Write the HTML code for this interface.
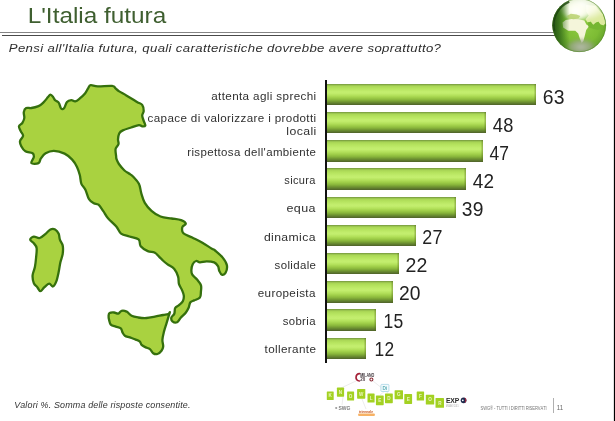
<!DOCTYPE html>
<html lang="it">
<head>
<meta charset="utf-8">
<title>L'Italia futura</title>
<style>

html,body{margin:0;padding:0;}
body{width:615px;height:421px;overflow:hidden;background:#fff;position:relative;font-family:'Liberation Sans', sans-serif;}
.slide{position:absolute;left:0;top:0;width:615px;height:421px;overflow:hidden;background:#fff;}
.rule{position:absolute;height:1px;}
.bar{position:absolute;left:327px;height:21.5px;background:linear-gradient(to right,rgba(80,100,25,0) 0,rgba(80,100,25,0) calc(100% - 2.5px),rgba(80,100,25,.45) 100%),linear-gradient(to bottom,#6f8f3c 0%,#94be4c 5%,#acd957 12%,#b6e45f 22%,#c2ed6d 36%,#c3ee6e 43%,#b2e05a 55%,#9dcc47 66%,#88b53b 76%,#739933 84%,#62812f 91%,#556b2c 97%,#4f632a 100%);}
.axis{position:absolute;left:325px;top:80px;width:2px;height:283px;background:#111;}
.edge{position:absolute;left:613px;top:0;width:2px;height:421px;background:linear-gradient(to right,rgba(0,0,0,.12) 0,rgba(0,0,0,.12) 1px,#000 1px,#000 2px);}
svg{position:absolute;left:0;top:0;overflow:visible;}
svg.logos,svg.txt{will-change:transform;}
svg.txt text{font-kerning:none;white-space:pre;}

</style>
</head>
<body>
<div class="slide">
<header>
<svg class="txt" width="615" height="421" viewBox="0 0 615 421" font-family="'Liberation Sans', sans-serif">
<text class="title" transform="translate(27.70,22.70) scale(1.1268,1)" font-size="21.6" letter-spacing="0.000" fill="#3f5f30">L'Italia futura</text>
<text class="subtitle" transform="translate(8.79,51.80) scale(1.1572,1)" font-size="11.4" letter-spacing="0.300" fill="#2e2e2e" font-style="italic">Pensi all'Italia futura, quali caratteristiche dovrebbe avere soprattutto?</text>
</svg>
<div class="rule" style="left:0;top:32px;width:556px;background:#858585"></div>
<div class="rule" style="left:2px;top:35px;width:554px;background:#4a4a4a"></div>
</header>
<section class="chart">
<div class="bar" style="top:83.7px;width:209.2px"></div>
<div class="bar" style="top:111.9px;width:159.1px"></div>
<div class="bar" style="top:140.1px;width:155.8px"></div>
<div class="bar" style="top:168.3px;width:139.1px"></div>
<div class="bar" style="top:196.5px;width:129.1px"></div>
<div class="bar" style="top:224.7px;width:89.0px"></div>
<div class="bar" style="top:252.9px;width:72.3px"></div>
<div class="bar" style="top:281.1px;width:65.6px"></div>
<div class="bar" style="top:309.3px;width:48.9px"></div>
<div class="bar" style="top:337.5px;width:38.9px"></div>
<div class="axis"></div>
<svg class="txt" width="615" height="421" viewBox="0 0 615 421" font-family="'Liberation Sans', sans-serif">
<text class="lbl" transform="translate(211.20,100.00) scale(1.0707,1)" font-size="10.9" letter-spacing="0.350" fill="#303030">attenta agli sprechi</text>
<text class="lbl" transform="translate(147.51,121.60) scale(1.0677,1)" font-size="10.9" letter-spacing="0.350" fill="#303030">capace di valorizzare i prodotti</text>
<text class="lbl" transform="translate(286.37,134.50) scale(1.1266,1)" font-size="10.9" letter-spacing="0.350" fill="#303030">locali</text>
<text class="lbl" transform="translate(187.24,156.20) scale(1.0536,1)" font-size="10.9" letter-spacing="0.350" fill="#303030">rispettosa dell'ambiente</text>
<text class="lbl" transform="translate(284.29,184.30) scale(1.0124,1)" font-size="10.9" letter-spacing="0.350" fill="#303030">sicura</text>
<text class="lbl" transform="translate(286.47,212.40) scale(1.1476,1)" font-size="10.9" letter-spacing="0.350" fill="#303030">equa</text>
<text class="lbl" transform="translate(263.89,240.50) scale(1.1203,1)" font-size="10.9" letter-spacing="0.350" fill="#303030">dinamica</text>
<text class="lbl" transform="translate(274.58,268.60) scale(1.0511,1)" font-size="10.9" letter-spacing="0.350" fill="#303030">solidale</text>
<text class="lbl" transform="translate(257.70,296.70) scale(1.0692,1)" font-size="10.9" letter-spacing="0.350" fill="#303030">europeista</text>
<text class="lbl" transform="translate(282.68,324.80) scale(1.0439,1)" font-size="10.9" letter-spacing="0.350" fill="#303030">sobria</text>
<text class="lbl" transform="translate(264.52,352.90) scale(1.0731,1)" font-size="10.9" letter-spacing="0.350" fill="#303030">tollerante</text>
<text class="val" transform="translate(542.82,103.90) scale(0.978,1)" font-size="19.8" letter-spacing="0.200" fill="#222">63</text>
<text class="val" transform="translate(492.78,131.90) scale(0.9231,1)" font-size="19.8" letter-spacing="0.200" fill="#222">48</text>
<text class="val" transform="translate(489.50,159.90) scale(0.8809,1)" font-size="19.8" letter-spacing="0.200" fill="#222">47</text>
<text class="val" transform="translate(472.86,187.90) scale(0.958,1)" font-size="19.8" letter-spacing="0.200" fill="#222">42</text>
<text class="val" transform="translate(461.87,215.90) scale(0.9741,1)" font-size="19.8" letter-spacing="0.200" fill="#222">39</text>
<text class="val" transform="translate(422.30,243.90) scale(0.9045,1)" font-size="19.8" letter-spacing="0.200" fill="#222">27</text>
<text class="val" transform="translate(405.52,271.90) scale(0.9885,1)" font-size="19.8" letter-spacing="0.200" fill="#222">22</text>
<text class="val" transform="translate(398.93,299.90) scale(0.9729,1)" font-size="19.8" letter-spacing="0.200" fill="#222">20</text>
<text class="val" transform="translate(383.57,327.90) scale(0.8851,1)" font-size="19.8" letter-spacing="0.200" fill="#222">15</text>
<text class="val" transform="translate(374.58,355.90) scale(0.8773,1)" font-size="19.8" letter-spacing="0.200" fill="#222">12</text>
</svg>
</section>
<svg class="map" width="615" height="421" viewBox="0 0 615 421">
<path d="M26.2,108.0C27.5,107.3 29.2,108.3 31.4,108.0C33.6,107.7 36.4,107.0 38.5,106.1C40.6,105.2 41.6,104.2 43.3,102.6C45.0,101.0 46.8,98.5 48.0,97.1C49.2,95.7 49.5,94.7 50.4,94.7C51.3,94.7 52.4,96.1 53.2,97.1C54.0,98.1 54.1,99.2 55.1,100.2C56.1,101.2 57.7,101.1 58.7,102.6C59.8,104.1 60.1,107.6 61.1,108.5C62.1,109.4 63.2,109.2 64.2,108.0C65.2,106.8 65.8,103.3 67.0,101.9C68.2,100.5 69.8,100.3 71.3,100.2C72.8,100.1 73.8,101.8 75.3,101.4C76.8,101.1 78.4,99.6 80.1,98.2C81.8,96.8 83.6,95.2 85.0,93.5C86.4,91.8 87.1,89.8 88.1,88.3C89.1,86.8 89.0,85.5 90.7,85.2C92.4,84.9 94.1,86.2 97.8,86.3C101.5,86.4 109.0,85.6 112.1,85.9C115.2,86.2 114.4,87.3 115.6,88.3C116.8,89.3 117.3,90.2 119.2,91.4C121.1,92.6 123.2,93.6 126.3,95.4C129.4,97.2 134.2,100.2 137.0,101.9C139.8,103.6 141.0,103.3 142.2,104.9C143.4,106.5 143.7,109.0 143.7,110.9C143.7,112.8 142.2,113.8 142.2,115.6C142.2,117.3 143.2,119.2 143.7,120.9C144.2,122.7 145.6,124.7 145.3,125.6C145.0,126.5 143.3,126.4 142.2,126.3C141.1,126.2 140.8,124.9 138.9,125.1C137.0,125.3 133.9,126.6 131.1,127.5C128.3,128.4 124.9,129.4 122.8,130.4C120.7,131.4 120.0,131.8 119.2,133.4C118.4,135.0 118.1,137.5 118.0,139.4C117.9,141.3 118.9,142.4 118.5,144.1C118.1,145.8 116.0,146.8 115.6,148.9C115.2,151.0 115.9,154.2 116.1,156.0C116.3,157.8 116.0,157.6 116.5,159.0C117.0,160.4 117.5,162.0 118.9,164.0C120.3,166.0 122.7,168.8 124.5,170.5C126.3,172.2 127.5,172.4 129.0,173.5C130.5,174.6 131.3,174.7 133.0,176.5C134.7,178.3 137.4,180.9 138.9,183.8C140.4,186.7 140.3,190.0 141.3,193.3C142.3,196.6 143.0,199.7 144.8,202.8C146.6,205.9 148.8,208.4 151.5,210.8C154.2,213.2 157.0,215.2 160.5,216.5C164.0,217.8 168.0,217.9 171.6,218.5C175.2,219.1 178.6,219.3 181.1,220.2C183.6,221.1 185.6,222.6 185.8,223.8C186.0,225.0 182.7,225.6 182.3,227.3C181.9,229.0 181.7,231.5 183.4,233.3C185.1,235.1 188.9,235.8 192.2,237.5C195.5,239.2 199.0,240.8 202.4,242.8C205.8,244.8 209.7,247.4 211.9,248.7C214.1,250.0 213.2,248.9 215.1,250.5C217.0,252.1 220.6,255.0 222.7,257.6C224.8,260.2 226.4,262.5 226.9,265.2C227.4,267.9 226.5,271.1 225.6,272.8C224.7,274.5 222.9,275.0 221.8,274.7C220.7,274.4 220.0,272.4 219.3,270.9C218.6,269.4 218.9,267.7 218.0,266.2C217.1,264.7 216.2,263.2 214.2,262.4C212.2,261.6 209.1,261.4 206.6,261.4C204.1,261.4 201.7,262.5 199.9,262.4C198.1,262.3 197.4,260.7 196.1,261.0C194.8,261.3 193.5,262.7 192.7,264.3C191.9,265.9 191.5,268.2 191.4,270.0C191.3,271.8 191.3,273.0 192.3,274.7C193.3,276.4 195.6,277.7 197.1,279.5C198.6,281.3 200.2,283.0 200.9,285.2C201.6,287.4 201.1,289.6 200.9,291.8C200.7,294.0 201.1,296.0 199.9,297.5C198.7,299.0 195.9,299.6 194.2,300.4C192.5,301.2 191.4,301.0 190.4,302.3C189.4,303.6 189.3,306.2 188.5,308.0C187.7,309.8 187.0,311.0 185.7,312.7C184.4,314.4 182.4,315.8 180.9,317.5C179.4,319.2 178.6,321.5 177.1,322.2C175.6,322.9 173.4,322.1 172.4,321.3C171.4,320.5 171.1,318.8 171.4,317.5C171.7,316.2 173.6,315.4 174.3,313.7C175.0,312.0 174.4,309.5 175.2,308.0C176.0,306.5 177.7,306.3 179.0,305.1C180.3,303.9 182.0,303.0 182.8,301.3C183.6,299.6 184.0,297.6 183.8,295.6C183.6,293.6 182.7,291.9 181.9,289.9C181.1,287.9 179.7,286.5 179.0,284.2C178.3,281.9 178.9,279.3 178.1,276.6C177.3,273.9 176.1,271.2 174.3,269.0C172.5,266.8 169.6,265.8 167.6,264.3C165.6,262.8 164.2,261.7 162.9,260.5C161.6,259.3 161.4,259.0 160.0,257.6C158.6,256.2 157.0,253.8 154.9,252.7C152.8,251.6 150.3,252.2 147.8,251.1C145.3,250.0 142.3,248.3 140.7,246.3C139.1,244.3 140.6,241.1 138.6,239.4C136.6,237.7 132.5,237.5 129.4,236.5C126.3,235.5 123.4,235.3 121.1,233.6C118.8,231.8 118.6,229.2 116.3,226.5C114.0,223.8 110.3,220.9 108.0,218.2C105.7,215.5 105.0,213.5 103.3,211.1C101.6,208.7 100.2,206.1 98.5,204.7C96.8,203.3 95.5,204.2 93.8,203.2C92.1,202.2 90.5,201.6 89.0,199.2C87.5,196.8 86.7,192.4 85.4,189.7C84.1,187.0 82.4,186.4 81.4,183.8C80.4,181.2 80.6,177.9 79.8,175.0C79.0,172.1 78.3,169.7 77.0,167.0C75.7,164.3 74.4,161.9 72.2,159.6C70.0,157.3 67.8,155.1 64.6,153.6C61.4,152.1 57.2,150.9 53.9,150.8C50.6,150.7 47.9,151.9 45.6,153.2C43.3,154.5 42.1,156.7 40.9,158.4C39.7,160.1 40.2,162.3 38.5,163.1C36.8,163.9 32.2,164.1 31.4,163.1C30.6,162.1 33.6,158.9 33.8,157.2C34.0,155.5 34.1,154.2 32.6,153.2C31.1,152.2 27.4,152.5 25.4,151.3C23.4,150.1 22.3,148.2 21.4,146.5C20.5,144.8 19.7,143.2 20.0,141.3C20.3,139.4 23.0,137.6 23.1,135.8C23.2,134.0 21.4,132.8 20.7,131.1C20.0,129.4 18.7,127.8 19.0,126.3C19.3,124.8 21.5,124.3 22.4,122.8C23.3,121.3 24.1,119.9 24.3,118.0C24.5,116.1 23.5,113.8 23.8,112.1C24.1,110.3 24.9,108.7 26.2,108.0Z" fill="#a9d240" stroke="#35700d" stroke-width="2.3" stroke-linejoin="round"/>
<path d="M109.6,313.0C110.6,312.4 112.6,312.4 114.1,312.5C115.6,312.6 117.0,313.9 118.3,313.6C119.6,313.3 120.1,311.2 121.6,310.8C123.1,310.4 124.8,310.7 126.6,311.6C128.3,312.5 129.6,314.8 131.6,315.8C133.6,316.8 135.7,317.1 138.3,317.5C140.9,317.9 143.7,318.2 146.6,318.0C149.5,317.8 152.0,317.1 154.9,316.6C157.8,316.1 160.9,315.4 163.2,315.0C165.5,314.6 167.0,314.6 168.2,314.1C169.4,313.6 169.8,311.7 169.9,312.1C170.0,312.5 169.1,314.6 168.5,316.6C167.9,318.6 167.3,320.7 166.5,323.3C165.7,325.9 164.7,328.7 164.0,331.6C163.3,334.5 162.5,337.3 162.4,339.9C162.3,342.5 163.4,344.7 163.2,346.6C163.0,348.5 162.5,349.4 161.5,350.7C160.5,352.0 158.9,353.6 157.4,354.0C155.9,354.4 154.5,354.1 153.2,353.2C151.9,352.3 151.2,350.1 149.9,349.1C148.6,348.1 147.2,348.1 145.7,347.4C144.2,346.7 142.6,345.9 141.6,344.9C140.6,343.9 140.9,342.5 139.9,341.6C138.9,340.7 137.6,340.3 135.8,339.6C134.1,338.9 131.8,338.1 129.9,337.4C128.0,336.7 126.2,336.6 124.9,335.7C123.6,334.8 123.2,333.7 122.5,332.4C121.8,331.1 122.0,329.3 120.8,328.3C119.6,327.3 117.5,327.2 115.8,326.6C114.0,326.0 112.0,325.8 110.8,324.6C109.6,323.4 109.5,321.4 109.1,319.9C108.7,318.4 108.5,317.0 108.6,315.8C108.7,314.6 108.6,313.6 109.6,313.0Z" fill="#a9d240" stroke="#35700d" stroke-width="2.3" stroke-linejoin="round"/>
<path d="M30.2,239.7C30.2,238.5 32.1,236.9 33.8,236.6C35.5,236.3 37.6,238.5 39.7,238.0C41.8,237.5 43.7,235.3 45.6,233.8C47.5,232.3 48.7,230.3 50.4,229.5C52.1,228.7 53.6,228.7 55.1,229.5C56.6,230.3 57.9,232.0 58.7,233.8C59.5,235.6 59.2,237.6 59.9,239.7C60.6,241.8 62.2,243.1 62.7,245.6C63.2,248.1 63.1,251.0 62.7,253.9C62.3,256.8 61.1,259.2 60.4,262.3C59.7,265.4 59.4,268.5 58.7,271.8C58.0,275.1 57.3,278.7 56.3,281.3C55.3,283.9 54.0,286.1 52.8,286.5C51.6,286.9 50.7,283.5 49.2,283.6C47.7,283.7 45.9,285.9 44.4,287.2C42.9,288.5 41.6,291.2 40.4,291.2C39.2,291.2 38.5,288.6 37.3,287.2C36.1,285.8 34.6,285.3 33.8,283.2C33.0,281.1 32.4,278.1 32.6,275.3C32.8,272.5 34.3,270.1 34.9,267.0C35.5,263.9 35.8,260.8 36.1,257.5C36.4,254.2 37.0,250.5 36.6,248.0C36.2,245.5 34.9,244.8 33.8,243.3C32.7,241.8 30.2,240.9 30.2,239.7Z" fill="#a9d240" stroke="#35700d" stroke-width="2.3" stroke-linejoin="round"/>
</svg>
<svg class="globe" width="615" height="421" viewBox="0 0 615 421">
<defs>
<radialGradient id="gb" cx="0.55" cy="0.5" r="0.55">
<stop offset="0" stop-color="#8ecb42"/><stop offset="0.6" stop-color="#7dbc34"/><stop offset="0.9" stop-color="#62a02a"/><stop offset="1" stop-color="#43771d"/>
</radialGradient>
<radialGradient id="gh" cx="0.5" cy="0.5" r="0.5">
<stop offset="0" stop-color="#fff" stop-opacity="0.98"/><stop offset="0.55" stop-color="#fffff2" stop-opacity="0.82"/><stop offset="1" stop-color="#fff" stop-opacity="0"/>
</radialGradient>
<radialGradient id="gg" cx="0.5" cy="0.5" r="0.5">
<stop offset="0" stop-color="#b7bbad" stop-opacity="0.97"/><stop offset="0.6" stop-color="#9ca78c" stop-opacity="0.75"/><stop offset="1" stop-color="#7f9a5a" stop-opacity="0"/>
</radialGradient>
<linearGradient id="gl" x1="0" y1="0" x2="1" y2="0">
<stop offset="0" stop-color="#1f4a10" stop-opacity="0.95"/><stop offset="0.12" stop-color="#2f6518" stop-opacity="0.8"/><stop offset="0.32" stop-color="#3f7d1e" stop-opacity="0"/>
</linearGradient>
<filter id="b1" x="-20%" y="-20%" width="140%" height="140%"><feGaussianBlur stdDeviation="0.7"/></filter>
<filter id="b2" x="-20%" y="-20%" width="140%" height="140%"><feGaussianBlur stdDeviation="1.6"/></filter>
<clipPath id="gc"><circle cx="579.2" cy="25.2" r="26.8"/></clipPath>
</defs>
<circle cx="579.2" cy="25.2" r="26.8" fill="url(#gb)"/>
<g clip-path="url(#gc)">
<path d="M586.2,5.1 L595.2,5.8 L602.8,14.1 L605.7,23.1 L603.5,25.6 L600.3,24.4 L598.4,21.8 L595.8,22.8 L593.2,25.0 L590.7,21.8 L587.5,22.4 L585.5,19.2 L588.7,15.4 L586.2,11.5Z" fill="#dcea9e" filter="url(#b1)"/>
<ellipse cx="582" cy="5" rx="27" ry="16" fill="url(#gh)" filter="url(#b2)"/>
<ellipse cx="576" cy="11" rx="15" ry="11" fill="url(#gh)" filter="url(#b2)"/>
<path d="M562.5,22.4 L565.7,19.9 L571.4,19.0 L578.5,19.2 L584.3,20.5 L586.4,24.4 L589.0,26.3 L586.2,30.1 L584.9,35.3 L583.4,41.0 L581.7,42.9 L579.8,38.5 L578.2,33.6 L575.3,30.8 L568.2,30.8 L563.1,27.6Z" fill="#f4f5da" filter="url(#b1)"/>
<path d="M566.9,16.0 L570.8,13.8 L576.6,14.4 L580.4,16.0 L578.5,18.6 L573.4,19.2 L568.9,18.6Z" fill="#b9d170" fill-opacity="0.85" filter="url(#b1)"/>
<path d="M587.5,22.4 L590.7,21.8 L593.2,25.0 L595.8,22.8 L598.4,21.8 L600.3,24.4 L603.5,25.6 L602.8,28.8 L597.7,30.1 L592.6,28.8 L588.7,27.6Z" fill="#74b532" fill-opacity="0.9" filter="url(#b1)"/>
<ellipse cx="581" cy="47" rx="17" ry="9.5" fill="url(#gg)" filter="url(#b2)"/>
<circle cx="579.2" cy="25.2" r="26.8" fill="url(#gl)"/>
<path d="M553.6,31 A25.7,25.7 0 0 1 569,1.2" fill="none" stroke="#1c420e" stroke-width="3.4" stroke-opacity="0.8" filter="url(#b1)"/>
</g>
<circle cx="579.2" cy="25.2" r="26.5" fill="none" stroke="#4a7d22" stroke-opacity="0.55" stroke-width="0.8"/>
</svg>
<footer>
<svg class="logos" width="615" height="421" viewBox="0 0 615 421" font-family="'Liberation Sans', sans-serif">
<g stroke="#d9d9d9" stroke-width="0.5" fill="none"><path d="M356,381 L341,388"/><path d="M373,381 L388,393"/><path d="M343,397 L342,405"/><path d="M362,399 L366,409"/><path d="M385,391 L380,395"/></g>
<rect x="326.8" y="391.5" width="6.9" height="8.5" rx="0.6" fill="#a3d122"/><text x="330.2" y="397.4" font-size="4.6" font-weight="bold" fill="#eaf6c2" text-anchor="middle">K</text>
<rect x="336.9" y="387.6" width="7.2" height="9.1" rx="0.6" fill="#a3d122"/><text x="340.5" y="393.8" font-size="4.6" font-weight="bold" fill="#eaf6c2" text-anchor="middle">N</text>
<rect x="347.1" y="391.5" width="7.0" height="9.1" rx="0.6" fill="#a3d122"/><text x="350.6" y="397.8" font-size="4.6" font-weight="bold" fill="#eaf6c2" text-anchor="middle">O</text>
<rect x="357.1" y="388.9" width="8.2" height="9.8" rx="0.6" fill="#a3d122"/><text x="361.2" y="395.5" font-size="4.6" font-weight="bold" fill="#eaf6c2" text-anchor="middle">W</text>
<rect x="367.5" y="393.5" width="7.1" height="9.1" rx="0.6" fill="#a3d122"/><text x="371.1" y="399.8" font-size="4.6" font-weight="bold" fill="#eaf6c2" text-anchor="middle">L</text>
<rect x="375.9" y="395.4" width="7.8" height="9.8" rx="0.6" fill="#a3d122"/><text x="379.8" y="402.0" font-size="4.6" font-weight="bold" fill="#eaf6c2" text-anchor="middle">E</text>
<rect x="385.0" y="393.5" width="7.8" height="9.7" rx="0.6" fill="#a3d122"/><text x="388.9" y="400.1" font-size="4.6" font-weight="bold" fill="#eaf6c2" text-anchor="middle">D</text>
<rect x="394.6" y="390.2" width="8.4" height="9.1" rx="0.6" fill="#a3d122"/><text x="398.8" y="396.4" font-size="4.6" font-weight="bold" fill="#eaf6c2" text-anchor="middle">G</text>
<rect x="404.3" y="394.1" width="7.8" height="9.8" rx="0.6" fill="#a3d122"/><text x="408.2" y="400.7" font-size="4.6" font-weight="bold" fill="#eaf6c2" text-anchor="middle">E</text>
<rect x="416.7" y="391.5" width="7.4" height="9.1" rx="0.6" fill="#a3d122"/><text x="420.4" y="397.8" font-size="4.6" font-weight="bold" fill="#eaf6c2" text-anchor="middle">F</text>
<rect x="425.8" y="394.8" width="8.4" height="9.7" rx="0.6" fill="#a3d122"/><text x="430.0" y="401.3" font-size="4.6" font-weight="bold" fill="#eaf6c2" text-anchor="middle">O</text>
<rect x="435.5" y="398.0" width="8.5" height="9.8" rx="0.6" fill="#a3d122"/><text x="439.8" y="404.6" font-size="4.6" font-weight="bold" fill="#eaf6c2" text-anchor="middle">R</text>
<g>
<path d="M359.6,373.6 C355.2,373.8 354.6,380.8 359.4,381" fill="none" stroke="#a52238" stroke-width="1.7" stroke-linecap="round"/>
<text x="360.2" y="376.5" font-size="4.6" font-weight="bold" fill="#3d343a" textLength="14.2" lengthAdjust="spacingAndGlyphs">MILANO</text>
<text x="360.2" y="380.9" font-size="4.8" font-weight="bold" fill="#4a3a40" textLength="5" lengthAdjust="spacingAndGlyphs">20</text>
<circle cx="371.4" cy="379.5" r="1.5" fill="none" stroke="#8a2a34" stroke-width="1.1"/>
</g>
<g>
<rect x="380.9" y="384.4" width="8" height="7.1" rx="0.8" fill="#f4fbfd" stroke="#a9d6e6" stroke-width="0.8"/>
<text x="384.9" y="390" font-size="4.8" font-weight="bold" fill="#5fb0b8" text-anchor="middle">Di</text>
</g>
<g>
<circle cx="336.2" cy="408" r="1.1" fill="#9a9a9a"/>
<text x="338.4" y="410.2" font-size="5.6" font-weight="bold" fill="#7d7d7d" textLength="12" lengthAdjust="spacingAndGlyphs">SWG</text>
</g>
<g>
<rect x="358" y="413.6" width="17" height="2.4" rx="1.2" fill="#f6a54a" opacity="0.85"/>
<text x="359" y="412.8" font-size="3.6" font-weight="bold" fill="#c7561e" textLength="14" lengthAdjust="spacingAndGlyphs">triennale</text>
</g>
<g>
<text x="446" y="402.8" font-size="6.8" font-weight="bold" fill="#2b2b2b" textLength="13.2" lengthAdjust="spacing">EXP</text>
<circle cx="463.6" cy="400.3" r="2.9" fill="#1e2b4d"/>
<path d="M464.2,397.5 A2.9,2.9 0 0 1 464.2,403.1 A4,4 0 0 0 464.2,397.5Z" fill="#e0203a"/>
<circle cx="462.8" cy="400.3" r="0.9" fill="#fff"/>
<text x="446" y="407.4" font-size="3.2" fill="#a5a5a5" textLength="12.5" lengthAdjust="spacingAndGlyphs">MILANO 2015</text>
</g>
</svg>
<div style="position:absolute;left:553px;top:398px;width:1px;height:15px;background:#b0b0b0"></div>
<svg class="txt" width="615" height="421" viewBox="0 0 615 421" font-family="'Liberation Sans', sans-serif">
<text class="note" transform="translate(14.13,407.90) scale(1.0898,1)" font-size="8.2" letter-spacing="0.150" fill="#333" font-style="italic">Valori %. Somma delle risposte consentite.</text>
<text class="copy" transform="translate(480.51,409.80) scale(0.9,1)" font-size="4.6" letter-spacing="-0.101" fill="#777">SWG® - TUTTI I DIRITTI RISERVATI</text>
<text class="pg" transform="translate(556.83,410.00) scale(0.9,1)" font-size="6.8" letter-spacing="-0.491" fill="#666">11</text>
</svg>
</footer>
<div class="edge"></div>
</div>
</body>
</html>
